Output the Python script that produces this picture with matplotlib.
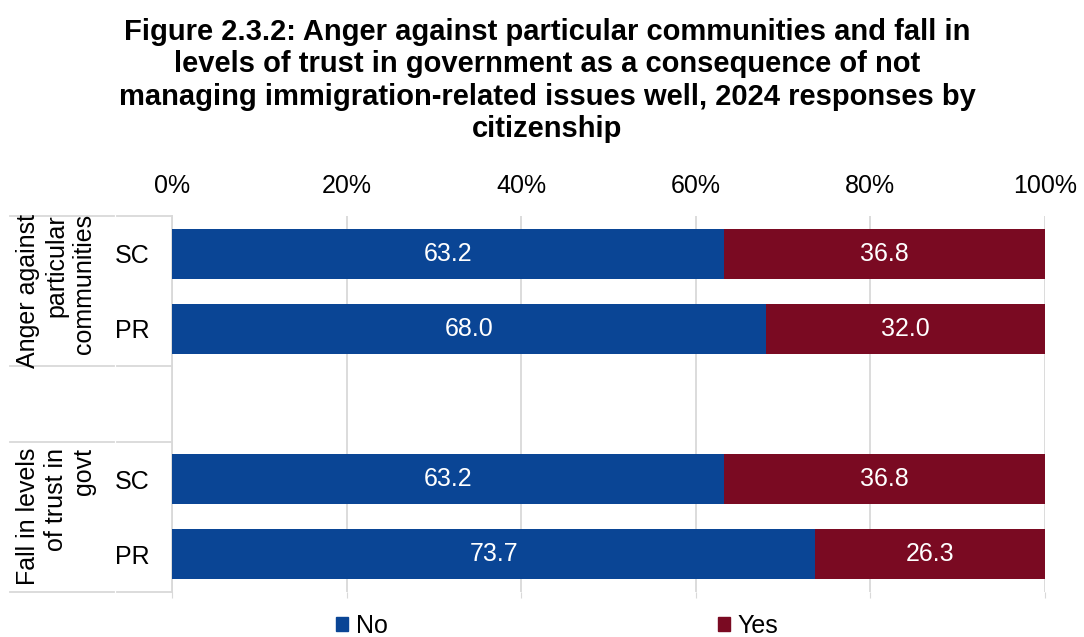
import matplotlib
matplotlib.use('Agg')
import matplotlib.pyplot as plt
from matplotlib.patches import Patch

plt.rcParams['font.family'] = ['Liberation Sans', 'DejaVu Sans']

# responses by citizenship (SC = Singapore citizens, PR = permanent residents)
groups = ['Anger against\nparticular\ncommunities', 'Fall in levels\nof trust in\ngovt']
rows = ['SC', 'PR', 'SC', 'PR']
no_vals = [63.2, 68.0, 63.2, 73.7]
yes_vals = [36.8, 32.0, 36.8, 26.3]
ticks = [0, 20, 40, 60, 80, 100]

blue = '#0A4595'
red = '#7A0A22'
grid = '#D9D9D9'

# slot 2 is left blank to separate the two groups
ypos = [0, 1, 3, 4]

fig = plt.figure(figsize=(10.84, 6.37), dpi=100)
ax = fig.add_axes([172 / 1084, 1 - 592 / 637, 873 / 1084, 376 / 637])

ax.barh(ypos, no_vals, height=0.667, color=blue, label='No', zorder=3)
ax.barh(ypos, yes_vals, left=no_vals, height=0.667, color=red, label='Yes', zorder=3)

for y, n, s in zip(ypos, no_vals, yes_vals):
    ax.text(n / 2, y, f'{n:.1f}', ha='center', va='center', color='white', fontsize=18, zorder=4)
    ax.text(n + s / 2, y, f'{s:.1f}', ha='center', va='center', color='white', fontsize=18, zorder=4)

ax.set_xlim(0, 100)
ax.set_ylim(4.5, -0.5)
ax.set_xticks(ticks)
ax.set_xticklabels([f'{t}%' for t in ticks], fontsize=18)
ax.tick_params(axis='x', labeltop=True, labelbottom=False, top=False, bottom=True,
               length=4, color=grid, pad=9)
ax.grid(axis='x', color=grid, linewidth=1.3, zorder=0)

ax.set_yticks(ypos)
ax.set_yticklabels(rows, fontsize=18)
ax.tick_params(axis='y', length=0, pad=16)

for side in ['top', 'right', 'bottom']:
    ax.spines[side].set_visible(False)
ax.spines['left'].set_color(grid)
ax.spines['left'].set_linewidth(1.3)

# multi-level category axis: separators and group labels
tr = ax.get_yaxis_transform()
x_far = (10 - 172) / 873
x_gap0 = (114 - 172) / 873
x_gap1 = (117 - 172) / 873
for yb in [-0.5, 1.5, 2.5, 4.5]:
    ax.plot([x_far, x_gap0], [yb, yb], color=grid, lw=1.3, transform=tr, clip_on=False)
    ax.plot([x_gap1, 0], [yb, yb], color=grid, lw=1.3, transform=tr, clip_on=False)

for label, yc in zip(groups, [0.5, 3.5]):
    ax.text((56 - 172) / 873, yc, label, rotation=90, ha='center', va='center',
            multialignment='right', fontsize=18, linespacing=1.2, transform=tr)

fig.text(0.505, 1 - 18 / 637,
         'Figure 2.3.2: Anger against particular communities and fall in\n'
         'levels of trust in government as a consequence of not\n'
         'managing immigration-related issues well, 2024 responses by\n'
         'citizenship',
         ha='center', va='top', fontsize=21, fontweight='bold', linespacing=1.2)

handles = [Patch(color=blue, label='No'), Patch(color=red, label='Yes')]
fig.legend(handles=handles, loc='center', bbox_to_anchor=(0.514, 1 - 626 / 637), ncol=2,
           frameon=False, fontsize=18, handlelength=0.5, handleheight=0.5,
           handletextpad=0.3, columnspacing=13.2)

fig.savefig('out.png', dpi=100)
